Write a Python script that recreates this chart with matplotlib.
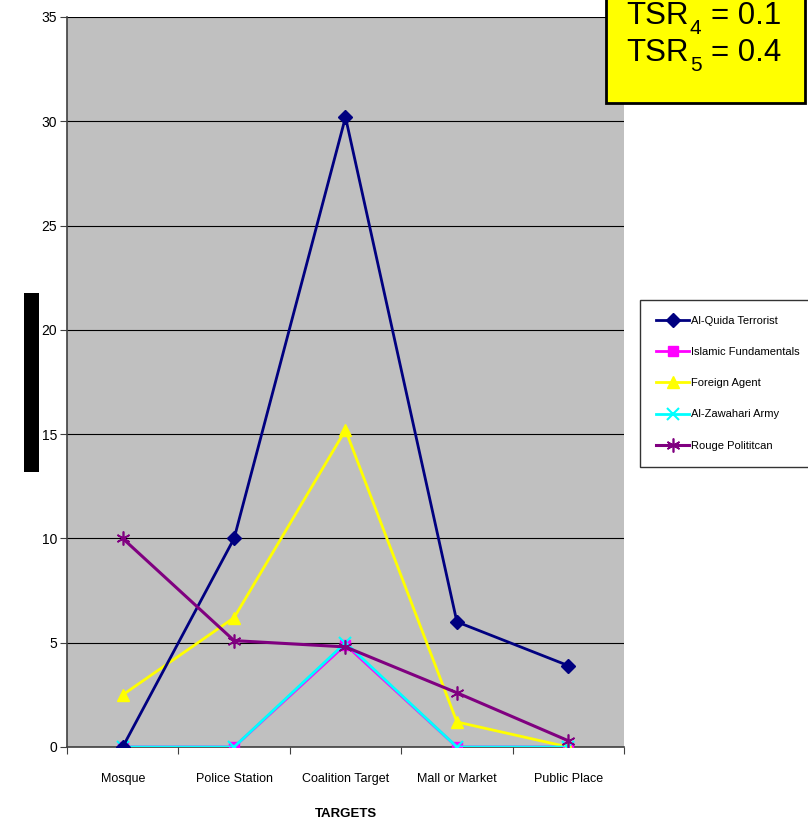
import matplotlib
matplotlib.use("Agg")
import matplotlib.pyplot as plt
from matplotlib.patches import Rectangle
import numpy as np

plt.rcParams['font.family'] = ['Liberation Sans', 'DejaVu Sans']

categories = ["Mosque", "Police Station", "Coalition Target", "Mall or Market", "Public Place"]
al_qaida = [0, 10, 30.2, 6, 3.9]
islamic = [0, 0, 4.9, 0, 0]
foreign = [2.5, 6.2, 15.2, 1.2, 0]
zawahari = [0, 0, 5.0, 0, 0]
rouge = [10, 5.1, 4.8, 2.6, 0.3]

series_names = ["Al-Quida Terrorist", "Islamic Fundamentals", "Foreign Agent",
                "Al-Zawahari Army", "Rouge Polititcan"]
tsr_subs = ["4", "5"]
tsr_vals = ["= 0.1", "= 0.4"]

fig = plt.figure(figsize=(8.08, 8.22), dpi=100)
ax = fig.add_axes([67/808, 1-747/822, (624-67)/808, (747-17)/822])
ax.set_facecolor('#C0C0C0')

x = np.arange(len(categories))
ax.plot(x, al_qaida, color='#000080', marker='D', markersize=7, lw=2, label=series_names[0], zorder=5)
ax.plot(x, islamic, color='#FF00FF', marker='s', markersize=7, lw=2, label=series_names[1], zorder=3)
ax.plot(x, foreign, color='#FFFF00', marker='^', markersize=8, lw=2, label=series_names[2], zorder=4)
ax.plot(x, zawahari, color='#00FFFF', marker='x', markersize=8, mew=1.5, lw=2, label=series_names[3], zorder=4)
ax.plot(x, rouge, color='#800080', marker=(6, 2, 0), markersize=10, mew=1.2, lw=2.2, label=series_names[4], zorder=6)

ax.set_xlim(-0.5, len(categories) - 0.5)
ax.set_ylim(0, 35)
ax.set_yticks(np.arange(0, 36, 5))
ax.yaxis.grid(True, color='black', lw=0.8)
ax.set_axisbelow(True)
ax.set_xticks(np.arange(-0.5, len(categories), 1.0))
ax.set_xticklabels([])
ax.set_xticks(x, minor=True)
ax.set_xticklabels(categories, minor=True, fontsize=9)
ax.tick_params(axis='x', which='minor', length=0, pad=19)
ax.tick_params(axis='x', which='major', length=5, direction='out', color='#404040')
ax.tick_params(axis='y', length=5, direction='out', color='#404040', labelsize=10, pad=2)
for s in ['top', 'right']:
    ax.spines[s].set_visible(False)
for s in ['left', 'bottom']:
    ax.spines[s].set_color('#404040')
    ax.spines[s].set_linewidth(1.2)
ax.set_xlabel("TARGETS", fontsize=9.5, fontweight='bold', labelpad=16)

leg = fig.legend(loc='upper left', bbox_to_anchor=(640/808, 1-300/822), fontsize=8.0,
                 frameon=True, fancybox=False, edgecolor='black', handlelength=3.0,
                 labelspacing=1.9, borderpad=1.45, borderaxespad=0, handletextpad=0.15)
leg.get_frame().set_linewidth(1.0)

# black rectangle (obscured y label)
fig.patches.append(Rectangle((24/808, 1-472/822), 15/808, 179/822, transform=fig.transFigure,
                             facecolor='black', edgecolor='none'))
# yellow box
fig.patches.append(Rectangle((606/808, 1-103/822), (805-606)/808, 110/822, transform=fig.transFigure,
                             facecolor='#FFFF00', edgecolor='black', lw=2, zorder=10))
for i, (sub, val) in enumerate(zip(tsr_subs, tsr_vals)):
    base = 24 + 37 * i
    fig.text(626/808, 1-base/822, "TSR", fontsize=22.5, va='baseline', ha='left', zorder=11)
    fig.text(690/808, 1-(base+10)/822, sub, fontsize=15, va='baseline', ha='left', zorder=11)
    fig.text(711/808, 1-base/822, val, fontsize=22.5, va='baseline', ha='left', zorder=11)

fig.savefig("out.png", dpi=100)
